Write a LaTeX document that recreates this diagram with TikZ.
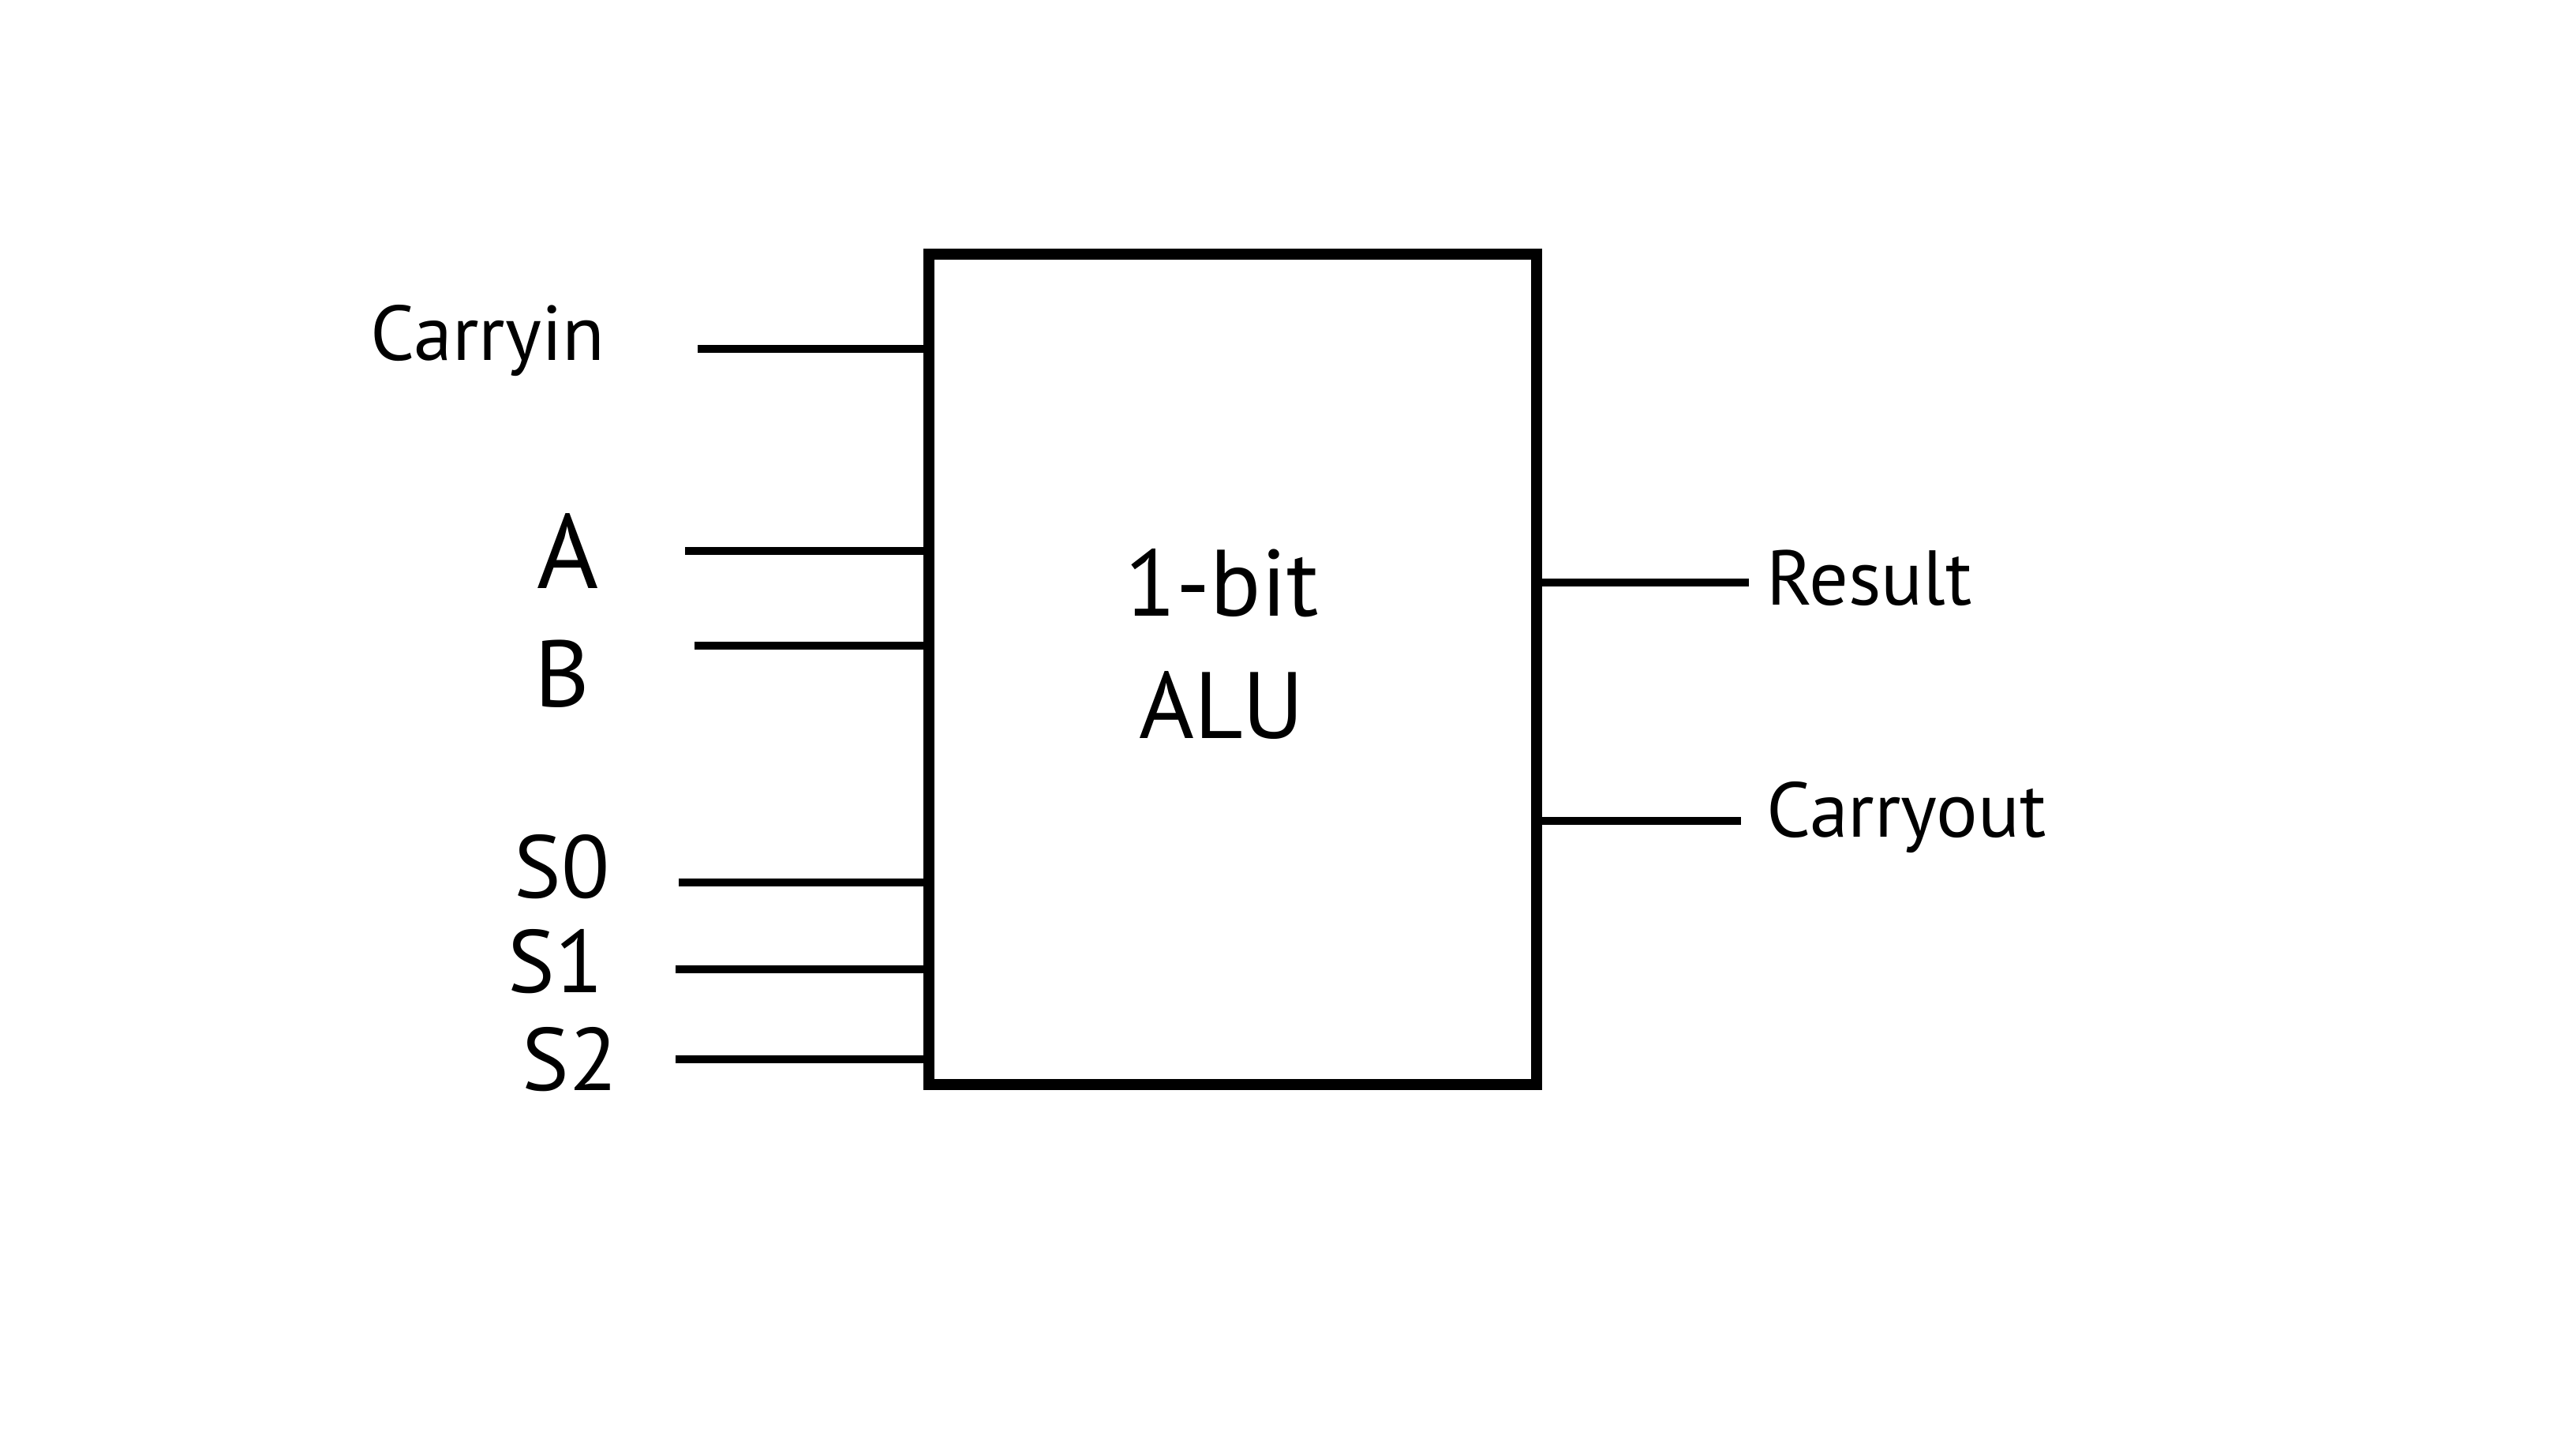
\documentclass[tikz,border=0pt]{standalone}
\usepackage{fontspec}
\setmainfont{PT Sans}
\usetikzlibrary{positioning}

\begin{document}
\begin{tikzpicture}[
  every node/.style={font=\fontsize{14}{17}\selectfont},
  alu/.style={draw, line width=2pt, rectangle, minimum width=3.85cm,
              minimum height=5.26cm, align=center, inner sep=0pt},
  pin/.style={line width=1.3pt},
  lab/.style={inner sep=1pt},
  sel/.style={inner sep=1pt, font=\fontsize{16}{19}\selectfont},
  big/.style={font=\fontsize{17}{22}\selectfont}]

\useasboundingbox (0,0) rectangle (16.32,9.18);

%% ---- the block ----
\node[alu] (ALU) at (7.81,4.94) {};
\node[big, align=center] (TXT) at (7.74,5.10) {1-bit\\ALU};

%% ---- input ends ----
\coordinate (CIN) at (4.42,6.97);
\coordinate (INA) at (4.34,5.69);
\coordinate (INB) at (4.40,5.09);
\coordinate (SEL0) at (4.30,3.59);
\coordinate (SEL1) at (4.28,3.04);
\coordinate (SEL2) at (4.28,2.47);

%% ---- output ends ----
\coordinate (RES) at (11.08,5.49);
\coordinate (COUT) at (11.03,3.98);

%% ---- labels ----
\node[lab] (LCIN) at (3.09,7.02) {Carryin};
\node[lab, font=\fontsize{19}{22}\selectfont] (LA) at (3.60,5.69) {A};
\node[lab, font=\fontsize{17}{20}\selectfont] (LB) at (3.56,4.91) {B};
\node[sel] (LS0) at (3.56,3.69) {S0};
\node[sel] (LS1) at (3.52,3.09) {S1};
\node[sel] (LS2) at (3.61,2.47) {S2};
\node[lab, anchor=west] (LRES) at (11.15,5.52) {Result};
\node[lab, anchor=west] (LCOUT) at (11.15,4.00) {Carryout};

%% --- Wires in ---
\draw[pin] (CIN) -- (CIN -| ALU.west);
\draw[pin] (INA) -- (INA -| ALU.west);
\draw[pin] (INB) -- (INB -| ALU.west);
\draw[pin] (SEL0) -- (SEL0 -| ALU.west);
\draw[pin] (SEL1) -- (SEL1 -| ALU.west);
\draw[pin] (SEL2) -- (SEL2 -| ALU.west);

%% --- Wires out ---
\draw[pin] (RES -| ALU.east) -- (RES);
\draw[pin] (COUT -| ALU.east) -- (COUT);
\end{tikzpicture}
\end{document}
